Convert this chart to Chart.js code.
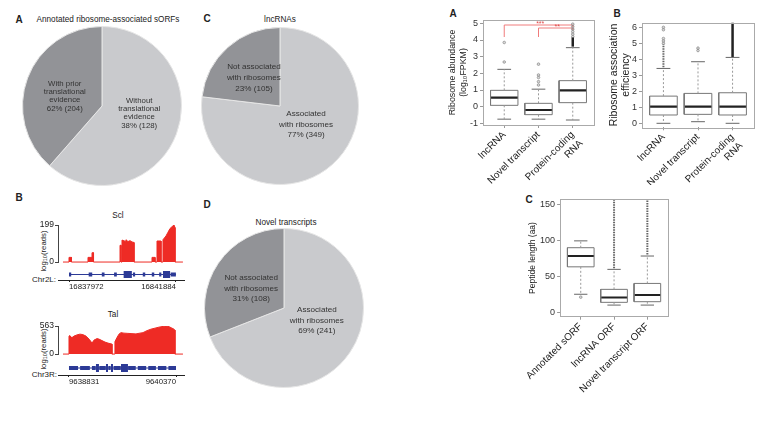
<!DOCTYPE html>
<html>
<head>
<meta charset="utf-8">
<script src="https://cdn.jsdelivr.net/npm/chart.js@4.4.1/dist/chart.umd.min.js"></script>
<style>
  body { margin: 0; width: 779px; height: 426px; background: #fff; position: relative; overflow: hidden;
         font-family: "Liberation Sans", Arial, sans-serif; color: #222; }
  canvas { position: absolute; }
  .t { position: absolute; white-space: nowrap; line-height: 1; transform: translate(-50%, -50%); font-size: 8.2px; }
  .r { position: absolute; white-space: nowrap; line-height: 1; transform: translate(-100%, -50%); font-size: 8px; }
  .v { position: absolute; white-space: nowrap; line-height: 1; transform: translate(-50%, -50%) rotate(-90deg); font-size: 7.8px; }
  .v sub { font-size: 5.5px; vertical-align: -1px; }
  .L { font-weight: bold; font-size: 10px; }
</style>
</head>
<body>
<div class="t L" style="left:19px;top:20px">A</div>
<div class="t" style="left:108px;top:20px">Annotated ribosome-associated sORFs</div>
<div class="t L" style="left:207px;top:19px">C</div>
<div class="t" style="left:280px;top:20px">lncRNAs</div>
<div class="t L" style="left:19px;top:198px">B</div>
<div class="t L" style="left:207px;top:205px">D</div>
<div class="t" style="left:286px;top:223px">Novel transcripts</div>
<div class="t" style="left:118px;top:216px">Scl</div>
<div class="t" style="left:113px;top:315px">Tal</div>
<div class="v" style="left:44px;top:251px">log<sub>10</sub>(reads)</div>
<div class="v" style="left:44px;top:349px">log<sub>10</sub>(reads)</div>
<div class="r" style="left:56px;top:280px">Chr2L:</div>
<div class="r" style="left:57px;top:375px">Chr3R:</div>
<div class="t L" style="left:453px;top:14px">A</div>
<div class="t L" style="left:617px;top:14px">B</div>
<div class="t L" style="left:529px;top:200px">C</div>

<canvas id="pieA" width="160" height="160" style="left:22px;top:26px"></canvas>
<canvas id="pieC" width="158" height="158" style="left:201px;top:27px"></canvas>
<canvas id="pieD" width="160" height="160" style="left:204px;top:228px"></canvas>
<canvas id="sclReads" width="160" height="51" style="left:28px;top:218px"></canvas>
<canvas id="sclGene" width="160" height="22" style="left:28px;top:269px"></canvas>
<canvas id="talReads" width="160" height="42" style="left:28px;top:319px"></canvas>
<canvas id="talGene" width="160" height="25" style="left:28px;top:361px"></canvas>
<canvas id="abundChart" width="160" height="185" style="left:440px;top:0px"></canvas>
<canvas id="effChart" width="174" height="185" style="left:605px;top:0px"></canvas>
<canvas id="lenChart" width="160" height="236" style="left:520px;top:190px"></canvas>

<script>
Chart.defaults.font.family = '"Liberation Sans", Arial, sans-serif';
Chart.defaults.color = '#222';
Chart.defaults.animation = false;

const red = '#ee2b25';
const blue = '#2c3a96';
const pieColors = ['#c9cacd', '#929397'];

// Pie charts (slices clockwise from 12 o'clock)
const pieAValues = [204, 128];
const pieALabels = [['Without', 'translational', 'evidence', '38% (128)'], ['With prior', 'translational', 'evidence', '62% (204)']];
const pieCValues = [349, 105];
const pieCLabels = [['Associated', 'with ribosomes', '77% (349)'], ['Not associated', 'with ribosomes', '23% (105)']];
const pieDValues = [241, 108];
const pieDLabels = [['Associated', 'with ribosomes', '69% (241)'], ['Not associated', 'with ribosomes', '31% (108)']];

// Scl track (positions = bp offset from first tick)
const sclTicks = [16837972, 16841884];
const sclPos = [-220, 0, 0, 90, 90, 695, 695, 842, 842, 897, 897, 1867, 1867, 1903, 1903, 1940, 1940, 2050, 2086, 2159, 2233, 2306, 2379, 2379, 3038, 3038, 3148, 3148, 3221, 3221, 3367, 3367, 3440, 3440, 3550, 3623, 3697, 3770, 3843, 3880, 3880, 4170];
const sclReads = [0, 0, 25, 25, 0, 0, 25, 25, 50, 50, 0, 0, 90, 90, 0, 0, 118, 112, 120, 110, 115, 108, 105, 0, 0, 25, 25, 0, 0, 113, 113, 0, 0, 120, 140, 160, 180, 190, 199, 185, 0, 0];
const sclIntron = [[0, 3912]];
const sclExonsSmall = [[0, 80], [720, 850], [1200, 1300], [1650, 1750], [2340, 2420], [2700, 2790], [3030, 3120], [3300, 3380], [3720, 3912]];
const sclExonsBig = [[2000, 2300], [3440, 3700]];

// Tal track
const talTicks = [9638831, 9640370];
const talPos = [-86, 0, 0, 14, 29, 43, 72, 115, 158, 201, 245, 288, 316, 331, 360, 403, 431, 475, 518, 561, 604, 618, 618, 661, 661, 690, 719, 748, 791, 848, 906, 963, 1021, 1064, 1122, 1179, 1237, 1294, 1352, 1395, 1438, 1481, 1510, 1524, 1524, 1639];
const talReads = [0, 0, 360, 370, 340, 330, 360, 385, 400, 390, 360, 300, 250, 220, 280, 310, 300, 270, 240, 220, 205, 200, 0, 0, 250, 330, 400, 430, 420, 415, 410, 405, 420, 430, 470, 500, 520, 540, 555, 563, 550, 520, 500, 480, 0, 0];
const talUtr = [[0, 130], [160, 300], [330, 385], [435, 530], [565, 600], [640, 745], [850, 960], [990, 1110], [1140, 1250], [1280, 1400], [1430, 1539]];
const talExonsBig = [[388, 431], [532, 561], [604, 633], [748, 848]];

// Ribosome abundance (log10 FPKM)
const abundCats = ['lncRNA', 'Novel transcript', ['Protein-coding', 'RNA']];
const abundTicks = [-1, 0, 1, 2, 3, 4, 5];
const abundQ1 = [0.08, -0.48, 0.24];
const abundMed = [0.54, -0.2, 0.98];
const abundQ3 = [0.98, 0.2, 1.56];
const abundLo = [-0.75, -0.75, -0.8];
const abundHi = [2.24, 1.05, 3.54];
const abundOut = [[2.68, 3.85], [1.3, 1.5, 1.75, 1.9, 2.55], [4.2, 4.35, 4.5, 4.65, 4.8, 4.95]];
const abundDense = [null, null, [3.6, 4.15]];
const abundSparse = [null, null, null];
const sigPairs = [[0, 2], [1, 2]];
const sigHeights = [4.9, 4.72];
const sigText = ['***', '**'];

// Ribosome association efficiency
const effCats = ['lncRNA', 'Novel transcript', ['Protein-coding', 'RNA']];
const effTicks = [0, 1, 2, 3, 4, 5, 6];
const effQ1 = [0.52, 0.56, 0.52];
const effMed = [1.04, 1.04, 1.04];
const effQ3 = [1.7, 1.87, 1.91];
const effLo = [0, 0.1, 0];
const effHi = [3.43, 3.85, 4.12];
const effOut = [[5.0, 5.15, 5.3, 5.85, 6.0], [4.55, 4.7], []];
const effDense = [null, null, [4.15, 6.5]];
const effSparse = [[3.5, 4.95], null, null];

// Peptide length (aa)
const lenCats = ['Annotated sORF', 'lncRNA ORF', 'Novel transcript ORF'];
const lenTicks = [0, 50, 100, 150];
const lenQ1 = [63, 13.8, 14.7];
const lenMed = [78, 20.5, 24];
const lenQ3 = [89.5, 31.8, 40];
const lenLo = [25, 10, 10];
const lenHi = [99, 59.5, 78];
const lenOut = [[21], [], []];
const lenDense = [null, null, null];
const lenSparse = [null, [61, 160], [80, 160]];

// ---------- pies ----------
function sliceText(texts, size, lh, shiftY) {
    return {
        id: 'sliceText',
        afterDatasetsDraw(chart) {
            const ctx = chart.ctx;
            ctx.save();
            ctx.font = size + 'px "Liberation Sans", Arial';
            ctx.fillStyle = '#333';
            ctx.textAlign = 'center';
            ctx.textBaseline = 'middle';
            chart.getDatasetMeta(0).data.forEach((arc, i) => {
                const p = arc.tooltipPosition();
                const lines = texts[i];
                lines.forEach((t, j) => ctx.fillText(t, p.x, p.y + shiftY[i] + (j - (lines.length - 1) / 2) * lh));
            });
            ctx.restore();
        }
    };
}

function makePie(id, values, texts, size, lh, shiftY) {
    new Chart(document.getElementById(id), {
        type: 'pie',
        data: { datasets: [{ data: values, backgroundColor: pieColors, borderColor: '#e6e6e6', borderWidth: 1, hoverOffset: 0 }] },
        options: { responsive: false, events: [], plugins: { legend: { display: false }, tooltip: { enabled: false } } },
        plugins: [sliceText(texts, size, lh, shiftY)]
    });
}
makePie('pieA', pieAValues, pieALabels, 7.8, 8.4, [-7, 4]);
makePie('pieC', pieCValues, pieCLabels, 8.1, 10.8, [-11, 1]);
makePie('pieD', pieDValues, pieDLabels, 8.1, 10.6, [-10, 3]);

// ---------- genome tracks ----------
function readsChart(id, pos, reads, yMax, yMin, xMin, xMax) {
    new Chart(document.getElementById(id), {
        type: 'line',
        data: {
            datasets: [{
                data: pos.map((p, i) => ({ x: p, y: reads[i] })),
                borderColor: red, backgroundColor: red, borderWidth: 1, fill: 'origin', pointRadius: 0
            }]
        },
        options: {
            responsive: false, events: [],
            layout: { padding: { top: 7, right: 4 } },
            plugins: { legend: { display: false }, tooltip: { enabled: false } },
            scales: {
                x: { type: 'linear', min: xMin, max: xMax, display: false },
                y: {
                    min: yMin, max: yMax,
                    afterBuildTicks: sc => { sc.ticks = [0, yMax].map(v => ({ value: v })); },
                    afterFit: sc => { sc.width = 30; },
                    grid: { drawOnChartArea: false, tickLength: 3, color: '#444' },
                    border: { color: '#444' },
                    ticks: { font: { size: 8.5 }, padding: 1, color: '#222' }
                }
            }
        }
    });
}

function segs(pairs) {
    return pairs.flatMap(([a, b]) => [{ x: a, y: 0 }, { x: b, y: 0 }, { x: b, y: null }]);
}

function geneChart(id, ticks, xMin, xMax, axisH, layers) {
    new Chart(document.getElementById(id), {
        type: 'line',
        data: {
            datasets: layers.map(l => ({
                data: segs(l.pairs), borderColor: blue, borderWidth: l.w, pointRadius: 0, borderCapStyle: 'butt'
            }))
        },
        options: {
            responsive: false, events: [],
            layout: { padding: { left: 30, right: 4 } },
            plugins: { legend: { display: false }, tooltip: { enabled: false } },
            scales: {
                y: { min: -1, max: 1, display: false },
                x: {
                    type: 'linear', min: xMin, max: xMax,
                    afterBuildTicks: sc => { sc.ticks = ticks.map(t => ({ value: t - ticks[0] })); },
                    afterFit: sc => { sc.height = axisH; },
                    grid: { drawOnChartArea: false, tickLength: 2, color: '#222' },
                    border: { color: '#222' },
                    ticks: { align: 'inner', font: { size: 7.8 }, padding: 0, maxRotation: 0, color: '#222',
                             callback: v => String(ticks[0] + v) }
                }
            }
        }
    });
}

readsChart('sclReads', sclPos, sclReads, 199, -4.6, -403, 4209);
geneChart('sclGene', sclTicks, -403, 4209, 11, [
    { pairs: sclIntron, w: 1.2 }, { pairs: sclExonsSmall, w: 4 }, { pairs: sclExonsBig, w: 7 }
]);
readsChart('talReads', talPos, talReads, 563, -16.6, -158, 1654);
geneChart('talGene', talTicks, -158, 1654, 11, [
    { pairs: [[0, 1539]], w: 1.2 }, { pairs: talUtr, w: 4 }, { pairs: talExonsBig, w: 8 }
]);

// ---------- box plots ----------
const frame = {
    id: 'frame',
    afterDraw(chart) {
        const a = chart.chartArea, ctx = chart.ctx;
        ctx.save();
        ctx.strokeStyle = '#aaa';
        ctx.lineWidth = 1;
        ctx.strokeRect(Math.round(a.left) + 0.5, Math.round(a.top) + 0.5, Math.round(a.right - a.left), Math.round(a.bottom - a.top));
        ctx.restore();
    }
};

function boxSets(s) {
    const box = [], med = [], wh = [], cap = [], out = [], dense = [], sparse = [];
    const gap = i => ({ x: i, y: null });
    s.q1.forEach((q1, i) => {
        const q3 = s.q3[i];
        box.push({ x: i - 0.4, y: q1 }, { x: i + 0.4, y: q1 }, { x: i + 0.4, y: q3 }, { x: i - 0.4, y: q3 }, { x: i - 0.4, y: q1 }, gap(i));
        med.push({ x: i - 0.4, y: s.med[i] }, { x: i + 0.4, y: s.med[i] }, gap(i));
        wh.push({ x: i, y: q3 }, { x: i, y: s.hi[i] }, gap(i), { x: i, y: q1 }, { x: i, y: s.lo[i] }, gap(i));
        cap.push({ x: i - 0.2, y: s.hi[i] }, { x: i + 0.2, y: s.hi[i] }, gap(i), { x: i - 0.2, y: s.lo[i] }, { x: i + 0.2, y: s.lo[i] }, gap(i));
        s.out[i].forEach(v => out.push({ x: i, y: v }));
        if (s.dense[i]) dense.push({ x: i, y: s.dense[i][0] }, { x: i, y: s.dense[i][1] }, gap(i));
        if (s.sparse[i]) sparse.push({ x: i, y: s.sparse[i][0] }, { x: i, y: s.sparse[i][1] }, gap(i));
    });
    const line = (data, color, w, dash) => ({ data, borderColor: color, borderWidth: w, borderDash: dash || [], pointRadius: 0, fill: false });
    return [
        line(wh, '#999', 1, [2, 2]),
        line(cap, '#666', 1),
        line(box, '#777', 1),
        line(med, '#222', 2.2),
        line(sparse, '#666', 2, [1.5, 1]),
        line(dense, '#222', 2.5),
        { data: out, showLine: false, pointRadius: 1.3, pointBorderWidth: 0.7, pointBorderColor: '#888', pointBackgroundColor: 'rgba(160,160,160,0.4)' }
    ];
}

function boxChart(id, s, cfg) {
    const datasets = boxSets(s).concat(cfg.extra || []);
    new Chart(document.getElementById(id), {
        type: 'line',
        data: { datasets },
        options: {
            responsive: false, events: [],
            layout: { padding: cfg.padding },
            plugins: { legend: { display: false }, tooltip: { enabled: false } },
            scales: {
                x: {
                    type: 'linear', min: -0.62, max: 2.62,
                    afterBuildTicks: sc => { sc.ticks = s.cats.map((c, i) => ({ value: i })); },
                    afterFit: sc => { sc.height = cfg.xHeight; },
                    grid: { drawOnChartArea: false, tickLength: 3, color: '#999' },
                    border: { display: false },
                    ticks: { autoSkip: false, minRotation: 45, maxRotation: 45, font: { size: 10 }, padding: 1, color: '#222',
                             callback: v => s.cats[v] }
                },
                y: {
                    min: cfg.yMin, max: cfg.yMax,
                    afterBuildTicks: sc => { sc.ticks = s.ticks.map(v => ({ value: v })); },
                    afterFit: sc => { sc.width = cfg.yWidth; },
                    grid: { drawOnChartArea: false, tickLength: 3, color: '#999' },
                    border: { display: false },
                    ticks: { font: { size: 9 }, padding: 2, color: '#333' },
                    title: { display: true, text: cfg.title, font: { size: cfg.titleSize }, padding: { top: cfg.titlePad }, color: '#222' }
                }
            }
        },
        plugins: [frame].concat(cfg.plugins || [])
    });
}

// significance brackets for panel A
const sigLines = sigPairs.map(([a, b], k) => ({
    data: [{ x: a, y: 4.18 }, { x: a, y: sigHeights[k] }, { x: b, y: sigHeights[k] }, { x: b, y: sigHeights[k] - 0.12 }],
    borderColor: '#f07c7c', borderWidth: 1, pointRadius: 0, fill: false
}));
const sigLabels = {
    id: 'sigLabels',
    afterDatasetsDraw(chart) {
        const ctx = chart.ctx, xs = chart.scales.x, ys = chart.scales.y;
        ctx.save();
        ctx.fillStyle = '#e04848';
        ctx.font = '7px "Liberation Sans", Arial';
        ctx.textAlign = 'center';
        ctx.textBaseline = 'bottom';
        sigPairs.forEach(([a, b], k) => {
            ctx.fillText(sigText[k], xs.getPixelForValue((a + b) / 2 + 0.05), ys.getPixelForValue(sigHeights[k]) + 3);
        });
        ctx.restore();
    }
};

boxChart('abundChart',
    { cats: abundCats, ticks: abundTicks, q1: abundQ1, med: abundMed, q3: abundQ3, lo: abundLo, hi: abundHi, out: abundOut, dense: abundDense, sparse: abundSparse },
    { padding: { top: 20, right: 6 }, xHeight: 60, yWidth: 43, yMin: -1.1, yMax: 5.2,
      title: ['Ribosome abundance', '(log\u2081\u2080FPKM)'], titleSize: 8.8, titlePad: 7.5,
      extra: sigLines, plugins: [sigLabels] });

boxChart('effChart',
    { cats: effCats, ticks: effTicks, q1: effQ1, med: effMed, q3: effQ3, lo: effLo, hi: effHi, out: effOut, dense: effDense, sparse: effSparse },
    { padding: { top: 22.7, right: 25 }, xHeight: 57.7, yWidth: 37, yMin: -0.25, yMax: 6.29,
      title: ['Ribosome association', 'efficiency'], titleSize: 10.5, titlePad: 2.5 });

boxChart('lenChart',
    { cats: lenCats, ticks: lenTicks, q1: lenQ1, med: lenMed, q3: lenQ3, lo: lenLo, hi: lenHi, out: lenOut, dense: lenDense, sparse: lenSparse },
    { padding: { top: 9.3, right: 12 }, xHeight: 109.3, yWidth: 37, yMin: -6.1, yMax: 156.6,
      title: 'Peptide length (aa)', titleSize: 8.5, titlePad: 4 });
</script>
</body>
</html>
